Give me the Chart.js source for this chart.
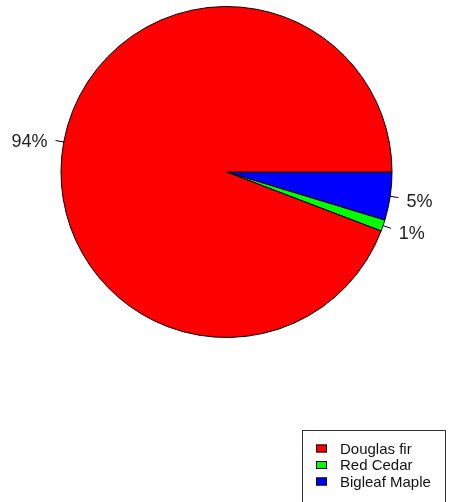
<!DOCTYPE html>
<html>
<head>
<meta charset="utf-8">
<script src="https://cdn.jsdelivr.net/npm/chart.js@4"></script>
<style>
  html, body { margin: 0; padding: 0; background: #ffffff; }
  #wrap { width: 449px; height: 502px; position: relative; }
</style>
</head>
<body>
<div id="wrap"><canvas id="c" width="449" height="502"></canvas></div>
<script>
// Data (in the order of the original legend)
const categories = ["Douglas fir", "Red Cedar", "Bigleaf Maple"];
const shares = [94.2, 1.1, 4.7];
const pctLabels = ["94%", "1%", "5%"];
const colors = ["#ff0000", "#00ff00", "#0000ff"];

// Original chart is drawn counter-clockwise from 3 o'clock; Chart.js goes clockwise,
// so feed the slices in reverse order starting at 3 o'clock.
const order = categories.map((_, i) => i).reverse();

const labelPlugin = {
  id: 'pieLabels',
  afterDatasetsDraw(chart) {
    const ctx = chart.ctx;
    const meta = chart.getDatasetMeta(0);
    ctx.save();
    ctx.font = '18px "Liberation Sans", Arial, sans-serif';
    ctx.fillStyle = '#222';
    ctx.strokeStyle = '#000';
    ctx.lineWidth = 1;
    ctx.textBaseline = 'middle';
    meta.data.forEach((arc, j) => {
      const idx = order[j];
      const p = arc.getProps(['x', 'y', 'startAngle', 'endAngle', 'outerRadius'], true);
      const a = (p.startAngle + p.endAngle) / 2;
      const r = p.outerRadius;
      const c = Math.cos(a), s = Math.sin(a);
      ctx.beginPath();
      ctx.moveTo(p.x + r * c, p.y + r * s);
      ctx.lineTo(p.x + 1.05 * r * c, p.y + 1.05 * r * s);
      ctx.stroke();
      ctx.textAlign = c >= 0 ? 'left' : 'right';
      ctx.fillText(pctLabels[idx], p.x + 1.1 * r * c, p.y + 1.1 * r * s + 3);
    });
    ctx.restore();
  }
};

const legendPlugin = {
  id: 'boxLegend',
  afterDraw(chart) {
    const ctx = chart.ctx;
    ctx.save();
    ctx.strokeStyle = '#333';
    ctx.lineWidth = 1;
    ctx.strokeRect(302.5, 430.5, 143, 80);
    ctx.font = '15px "Liberation Sans", Arial, sans-serif';
    ctx.textBaseline = 'middle';
    ctx.textAlign = 'left';
    categories.forEach((name, i) => {
      const cy = 448.5 + i * 16.5;
      ctx.fillStyle = colors[i];
      ctx.fillRect(316, cy - 4, 11, 8);
      ctx.strokeStyle = '#000';
      ctx.strokeRect(316.5, cy - 3.5, 10, 7);
      ctx.fillStyle = '#111';
      ctx.fillText(name, 340, cy + 1);
    });
    ctx.restore();
  }
};

new Chart(document.getElementById('c'), {
  type: 'pie',
  data: {
    labels: order.map(i => categories[i]),
    datasets: [{
      data: order.map(i => shares[i]),
      backgroundColor: order.map(i => colors[i]),
      borderColor: '#000',
      borderWidth: 1,
      borderAlign: 'center'
    }]
  },
  options: {
    responsive: false,
    animation: false,
    rotation: 90,
    radius: 165.5,
    layout: { padding: { left: 60, right: 56, top: 5, bottom: 163 } },
    plugins: {
      legend: { display: false },
      tooltip: { enabled: false }
    }
  },
  plugins: [labelPlugin, legendPlugin]
});
</script>
</body>
</html>
